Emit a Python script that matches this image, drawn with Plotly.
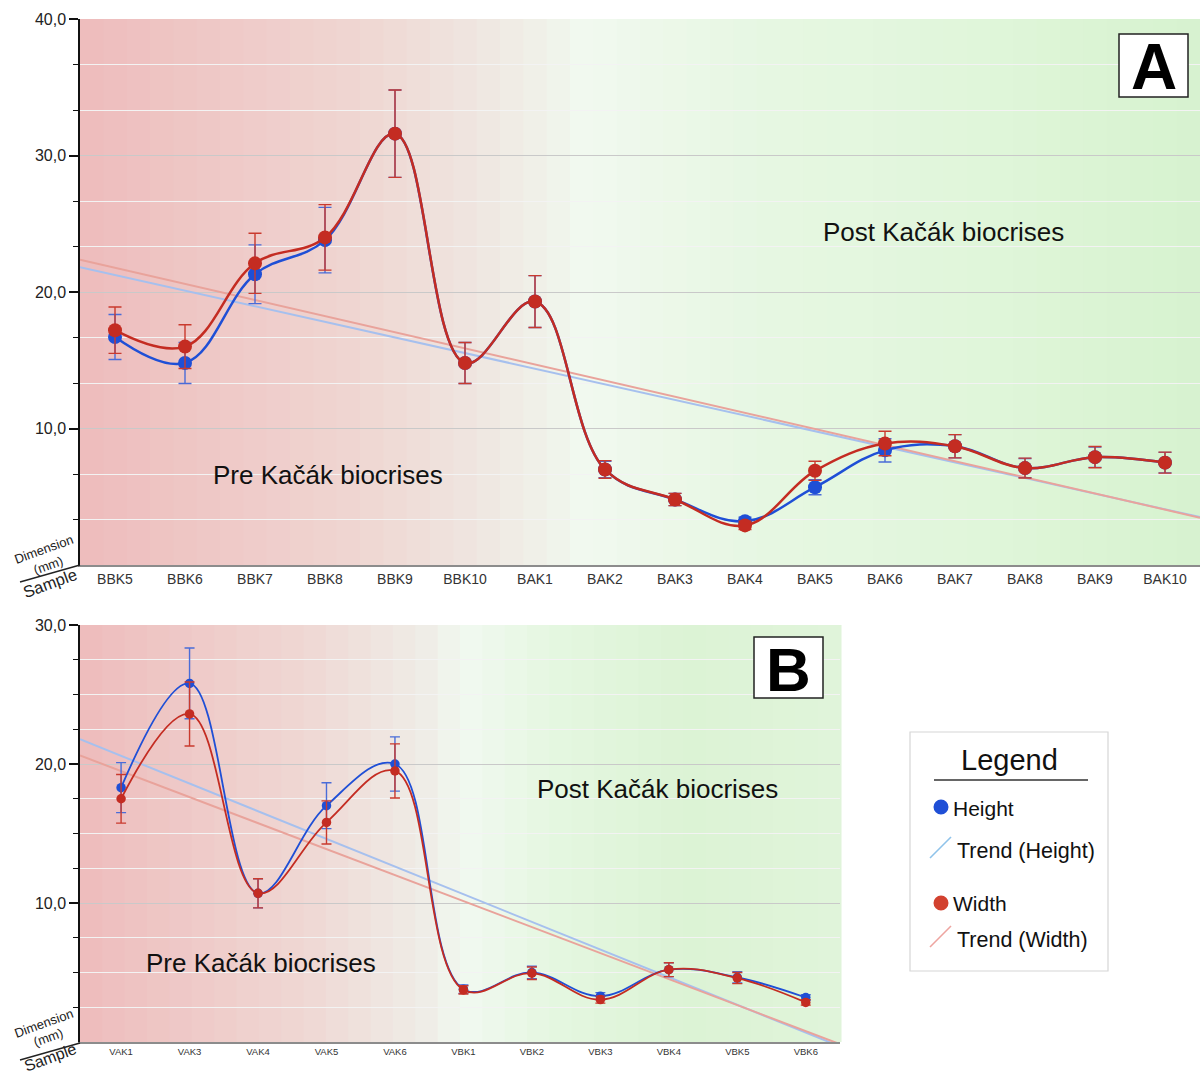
import numpy as np
import plotly.graph_objects as go

# ---------------- data ----------------
A_samples = ["BBK5", "BBK6", "BBK7", "BBK8", "BBK9", "BBK10", "BAK1", "BAK2",
             "BAK3", "BAK4", "BAK5", "BAK6", "BAK7", "BAK8", "BAK9", "BAK10"]
A_height = [16.7, 14.8, 21.3, 23.8, 31.6, 14.8, 19.3, 7.0, 4.8, 3.2, 5.7, 8.4, 8.7, 7.1, 7.9, 7.5]
A_height_err = [1.65, 1.5, 2.15, 2.4, 3.2, 1.5, 1.9, 0.6, 0.45, 0.3, 0.55, 0.85, 0.85, 0.7, 0.75, 0.75]
A_width = [17.2, 16.0, 22.1, 24.0, 31.6, 14.8, 19.3, 7.0, 4.8, 2.9, 6.9, 8.9, 8.7, 7.1, 7.9, 7.5]
A_width_err = [1.7, 1.6, 2.2, 2.4, 3.2, 1.5, 1.9, 0.65, 0.45, 0.3, 0.7, 0.9, 0.85, 0.73, 0.78, 0.77]

B_samples = ["VAK1", "VAK3", "VAK4", "VAK5", "VAK6", "VBK1", "VBK2", "VBK3", "VBK4", "VBK5", "VBK6"]
B_height = [18.3, 25.8, 10.7, 17.0, 20.0, 3.8, 5.0, 3.3, 5.2, 4.65, 3.2]
B_height_err = [1.8, 2.55, 1.05, 1.65, 1.95, 0.3, 0.45, 0.25, 0.5, 0.4, 0.2]
B_width = [17.5, 23.6, 10.7, 15.8, 19.5, 3.75, 4.95, 3.05, 5.2, 4.6, 2.85]
B_width_err = [1.75, 2.3, 1.05, 1.55, 1.95, 0.3, 0.45, 0.25, 0.5, 0.4, 0.2]

A_yticks = [10, 20, 30, 40]
B_yticks = [10, 20, 30]

# ---------------- style ----------------
W, H = 1200, 1074
FONT = "Liberation Sans, Arial, sans-serif"
BLUE = "#1f4fd6"
BLUE_ERR = "#4a6cd8"
RED = "#c42c22"
RED_ERR = "#c93a2e"
TREND_H = "#a6c0ee"
TREND_W = "#e9a39b"


def px(x, y):
    return x / W, 1 - y / H


fig = go.Figure()

A_range = [-0.5, len(A_samples) - 0.5]
B_range = [-0.6, len(B_samples) - 0.5]


def add_panel(samples, hv, he, wv, we, xr, xa, ya, msize, lw, capw):
    idx = np.arange(len(samples))
    # trend lines (least squares)
    for vals, col in ((hv, TREND_H), (wv, TREND_W)):
        k, b = np.polyfit(idx, np.array(vals), 1)
        xs = np.array(xr)
        fig.add_trace(go.Scatter(x=xs, y=k * xs + b, mode="lines",
                                 line=dict(color=col, width=2),
                                 xaxis=xa, yaxis=ya, showlegend=False, hoverinfo="skip"))
    for vals, errs, col, ecol in ((hv, he, BLUE, BLUE_ERR), (wv, we, RED, RED_ERR)):
        fig.add_trace(go.Scatter(
            x=idx, y=vals, mode="lines+markers",
            line=dict(color=col, width=lw, shape="spline", smoothing=1.1),
            marker=dict(color=col, size=msize),
            error_y=dict(type="data", array=errs, color=ecol, thickness=1.4, width=capw),
            xaxis=xa, yaxis=ya, showlegend=False))


add_panel(A_samples, A_height, A_height_err, A_width, A_width_err, A_range, "x", "y", 14, 2.5, 6.5)
add_panel(B_samples, B_height, B_height_err, B_width, B_width_err, B_range, "x2", "y2", 9.5, 1.8, 5)

# ---------------- background gradients ----------------
def lerp_stops(stops, t):
    for (t0, c0), (t1, c1) in zip(stops[:-1], stops[1:]):
        if t0 <= t <= t1:
            f = (t - t0) / (t1 - t0) if t1 > t0 else 0
            return tuple(int(round(a + (b - a) * f)) for a, b in zip(c0, c1))
    return stops[-1][1]


A_stops = [(0.0, (238, 188, 188)), (0.25, (239, 214, 210)), (0.36, (239, 231, 225)),
           (0.45, (241, 249, 239)), (0.6, (231, 247, 227)), (0.8, (224, 246, 218)),
           (1.0, (215, 242, 207))]
B_stops = [(0.0, (238, 188, 188)), (0.3, (239, 216, 212)), (0.45, (239, 236, 230)),
           (0.51, (241, 249, 240)), (0.62, (229, 247, 225)), (0.8, (220, 243, 213)),
           (1.0, (224, 244, 218))]

shapes = []
for stops, xr_, yr_, n in ((A_stops, "x domain", "y domain", 48), (B_stops, "x2 domain", "y2 domain", 34)):
    for i in range(n):
        c = lerp_stops(stops, (i + 0.5) / n)
        shapes.append(dict(type="rect", xref=xr_, yref=yr_, x0=i / n, x1=(i + 1) / n + 0.002,
                           y0=0, y1=1, fillcolor="rgb(%d,%d,%d)" % c, line=dict(width=0),
                           layer="below"))

# A / B boxes
for (x0, y0, x1, y1) in ((1119, 34, 1188, 97), (754, 637, 823, 698)):
    a0, b0 = px(x0, y0)
    a1, b1 = px(x1, y1)
    shapes.append(dict(type="rect", xref="paper", yref="paper", x0=a0, x1=a1, y0=b1, y1=b0,
                       fillcolor="white", line=dict(color="#222", width=1.5)))

# Dimension / Sample diagonal lines
for (x0, y0, x1, y1) in ((20, 582, 80, 565), (20, 1060, 80, 1043)):
    a0, b0 = px(x0, y0)
    a1, b1 = px(x1, y1)
    shapes.append(dict(type="line", xref="paper", yref="paper", x0=a0, y0=b0, x1=a1, y1=b1,
                       line=dict(color="#222", width=1.3)))

# Legend box
a0, b0 = px(910, 732)
a1, b1 = px(1108, 971)
shapes.append(dict(type="rect", xref="paper", yref="paper", x0=a0, x1=a1, y0=b1, y1=b0,
                   fillcolor="white", line=dict(color="#d6d6d6", width=1.2)))
a0, b0 = px(934, 780)
a1, b1 = px(1088, 780)
shapes.append(dict(type="line", xref="paper", yref="paper", x0=a0, y0=b0, x1=a1, y1=b1,
                   line=dict(color="#333", width=1.5)))
for cx, cy, col in ((941, 807, BLUE), (941, 903, "#d2412f")):
    a0, b0 = px(cx - 7.5, cy - 7.5)
    a1, b1 = px(cx + 7.5, cy + 7.5)
    shapes.append(dict(type="circle", xref="paper", yref="paper", x0=a0, x1=a1, y0=b1, y1=b0,
                       fillcolor=col, line=dict(width=0)))
for (x0, y0, x1, y1, col) in ((930, 858, 951, 837, "#8fc3ea"), (930, 947, 951, 926, "#eea5a0")):
    a0, b0 = px(x0, y0)
    a1, b1 = px(x1, y1)
    shapes.append(dict(type="line", xref="paper", yref="paper", x0=a0, y0=b0, x1=a1, y1=b1,
                       line=dict(color=col, width=1.6)))

# ---------------- annotations ----------------
ann = []


def text(x, y, s, size, xanchor="center", angle=0, bold=False, color="#111"):
    a, b = px(x, y)
    ann.append(dict(x=a, y=b, xref="paper", yref="paper", text=("<b>%s</b>" % s) if bold else s,
                    showarrow=False, xanchor=xanchor, yanchor="middle", textangle=angle,
                    font=dict(family=FONT, size=size, color=color)))


text(943, 232, "Post Kačák biocrises", 26)
text(328, 475, "Pre Kačák biocrises", 26)
text(657, 789, "Post Kačák biocrises", 26)
text(261, 963, "Pre Kačák biocrises", 26)
text(1153.5, 67, "A", 64, bold=True, color="#000")
text(788.5, 669, "B", 62, bold=True, color="#000")

# axis corner labels: (Dimension y, (mm) y, Sample y, Sample size)
for dim_y, mm_y, s_y, s_size in ((549, 565, 583, 16.5), (1023, 1037, 1057, 16)):
    text(43, dim_y, "Dimension", 13, angle=-20, color="#222")
    text(48, mm_y, "(mm)", 13, angle=-20, color="#222")
    text(50, s_y, "Sample", s_size, angle=-20, color="#222")

text(1009, 760, "Legend", 29)
text(951, 808, "Height", 21, xanchor="left")
text(955, 851, "Trend (Height)", 21.5, xanchor="left")
text(951, 903, "Width", 21, xanchor="left")
text(955, 940, "Trend (Width)", 21.5, xanchor="left")


def fmt(v):
    return ("%.1f" % v).replace(".", ",")


def yaxis_cfg(ticks, top, minor_step, domain):
    minor_vals = [v for v in np.arange(minor_step, top, minor_step)
                  if min(abs(v - t) for t in ticks) > 1e-6]
    return dict(domain=domain, range=[0, top], tickmode="array", tickvals=ticks,
                ticktext=[fmt(t) for t in ticks], ticks="outside", ticklen=9, tickwidth=1.5,
                tickcolor="#111", showline=True, linecolor="#111", linewidth=1.5,
                showgrid=True, gridcolor="#c9c9c9", gridwidth=1.2, zeroline=False,
                tickfont=dict(family=FONT, size=16, color="#222"), automargin=False,
                minor=dict(tickmode="array", tickvals=minor_vals, ticks="outside", ticklen=5,
                           tickwidth=1.2, tickcolor="#111", showgrid=True,
                           gridcolor="#f3f3f3", gridwidth=1.2))


def xaxis_cfg(samples, xr, domain, anchor, size):
    return dict(domain=domain, range=xr, tickmode="array", tickvals=list(range(len(samples))),
                ticktext=samples, ticks="", showline=True, linecolor="#8c8c8c", linewidth=2,
                showgrid=False, zeroline=False, anchor=anchor, automargin=False,
                tickfont=dict(family=FONT, size=size, color="#333"))


fig.update_layout(
    width=W, height=H, margin=dict(l=0, r=0, t=0, b=0),
    paper_bgcolor="white", plot_bgcolor="white", showlegend=False,
    xaxis=xaxis_cfg(A_samples, A_range, [80 / W, 1.0], "y", 14),
    yaxis=yaxis_cfg(A_yticks, 40, 10 / 3, [1 - 565 / H, 1 - 19 / H]),
    xaxis2=xaxis_cfg(B_samples, B_range, [80 / W, 840 / W], "y2", 9.5),
    yaxis2=dict(yaxis_cfg(B_yticks, 30, 2.5, [1 - 1042 / H, 1 - 625 / H]), anchor="x2"),
    shapes=shapes, annotations=ann,
)
fig.layout.yaxis.anchor = "x"

fig.write_html("out.html", config={"displayModeBar": False},
               post_script="document.body.style.margin='0';document.body.style.overflow='hidden';")
